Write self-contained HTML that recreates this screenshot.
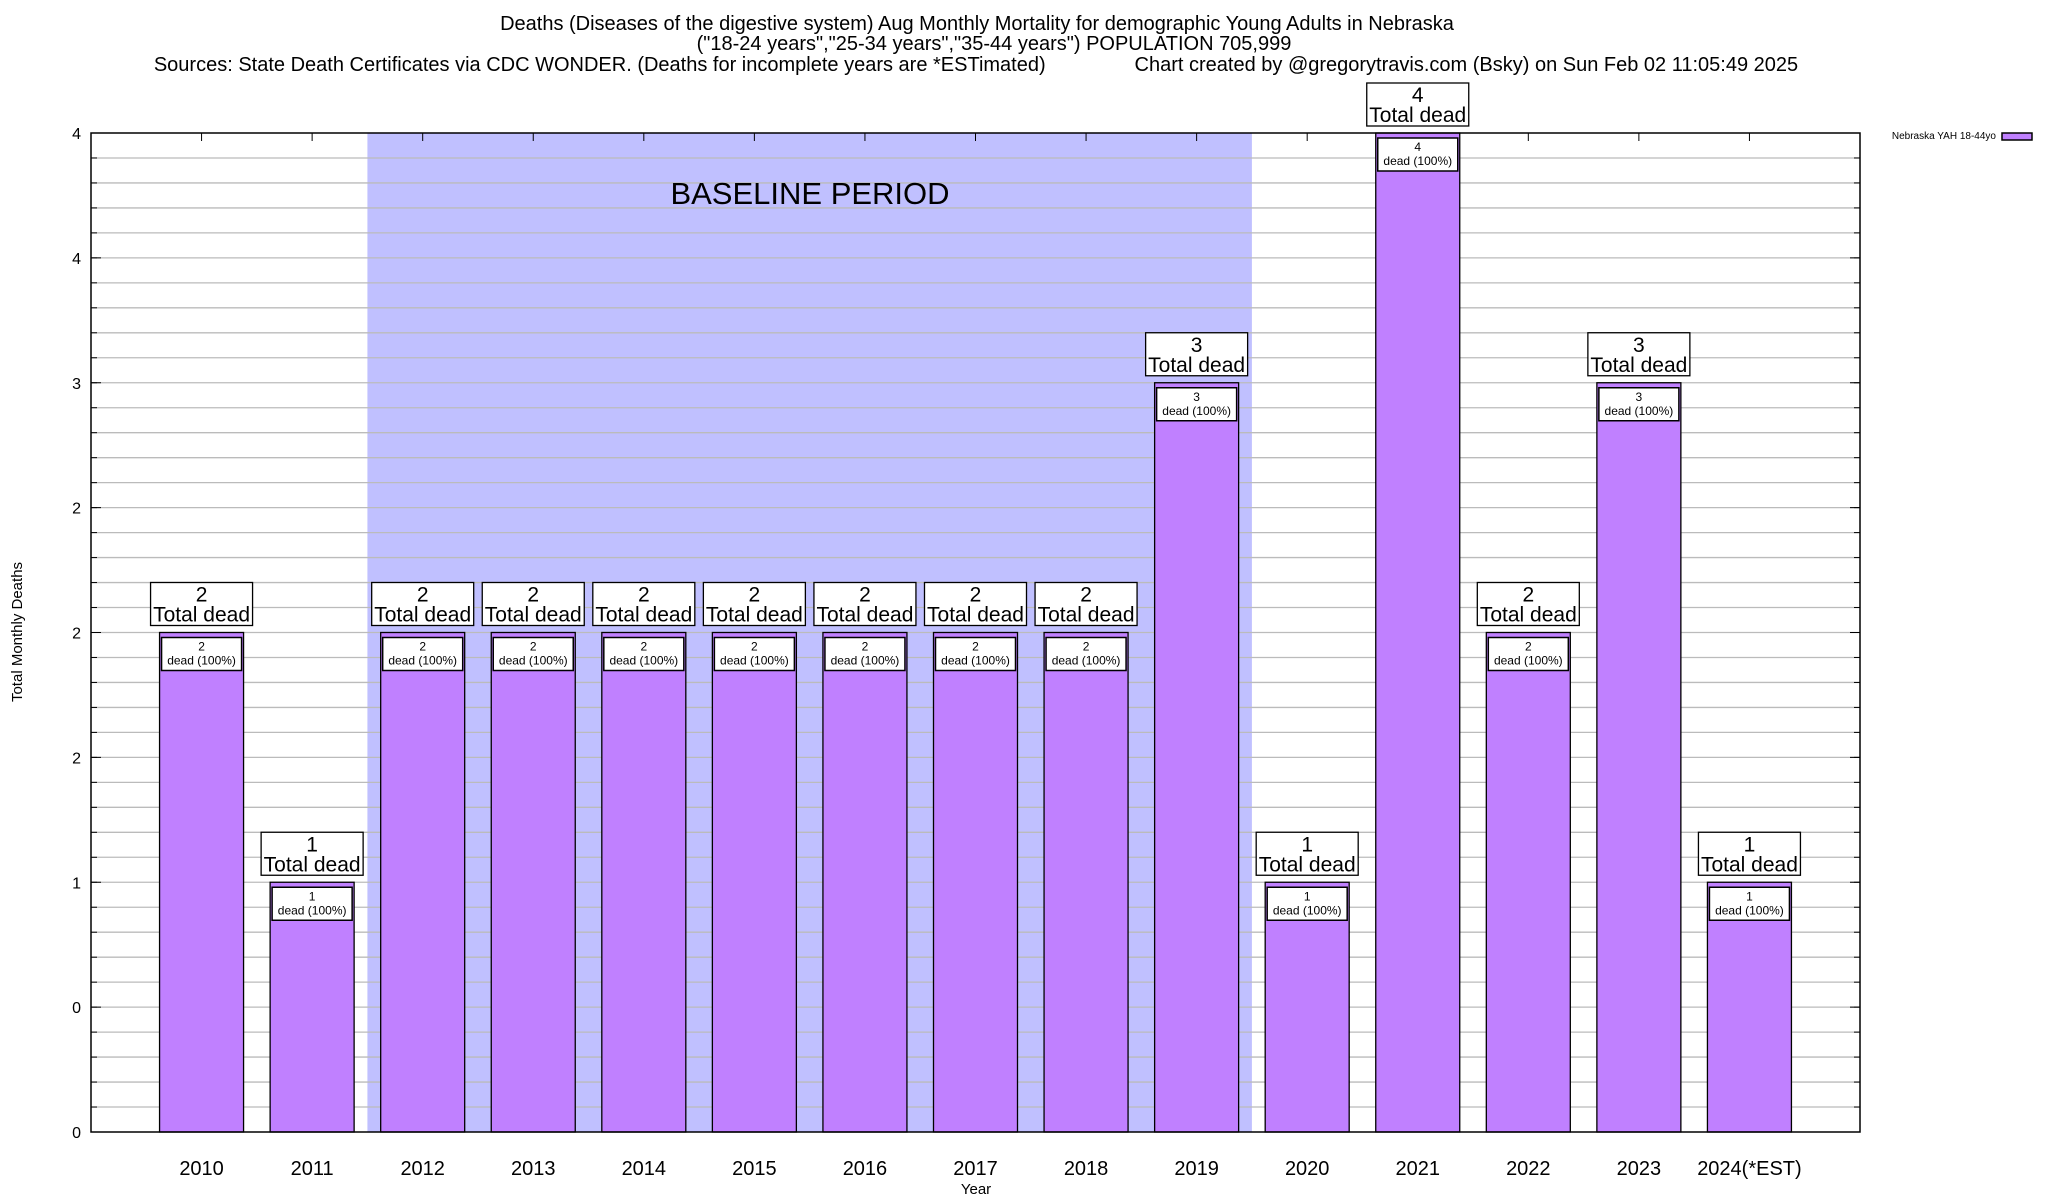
<!DOCTYPE html>
<html><head><meta charset="utf-8"><style>
body{margin:0;background:#fff}
svg{display:block;font-family:"Liberation Sans",Arial,sans-serif}
</style></head><body>
<svg id="chart" width="2048" height="1200" viewBox="0 0 2048 1200">
<g font-size="20" text-anchor="middle">
<text x="977" y="30">Deaths (Diseases of the digestive system) Aug Monthly Mortality for demographic Young Adults in Nebraska</text>
<text x="994" y="50">("18-24 years","25-34 years","35-44 years") POPULATION 705,999</text>
<text x="976" y="71" xml:space="preserve">Sources: State Death Certificates via CDC WONDER. (Deaths for incomplete years are *ESTimated)                Chart created by @gregorytravis.com (Bsky) on Sun Feb 02 11:05:49 2025</text>
</g>
<g id="plot"></g>
<text x="22" y="632" transform="rotate(-90 22 632)" text-anchor="middle" font-size="15">Total Monthly Deaths</text>
<text x="976" y="1194" text-anchor="middle" font-size="15">Year</text>
<g>
<text x="1996" y="139" text-anchor="end" font-size="10">Nebraska YAH 18-44yo</text>
<rect x="2002" y="133" width="30" height="7" fill="#c080ff" stroke="#000" stroke-width="1.5"/>
</g>
</svg>
<script>
const categories=["2010","2011","2012","2013","2014","2015","2016","2017","2018","2019","2020","2021","2022","2023","2024(*EST)"];
const deaths=[2,1,2,2,2,2,2,2,2,3,1,4,2,3,1];
const yTickValues=[0,0.5,1,1.5,2,2.5,3,3.5,4];
const yTickLabels=["0","0","1","2","2","2","3","4","4"];
const baselineRange=[2012,2019];
const L=91,R=1860,T=133,B=1132,yMax=4;
const NS="http://www.w3.org/2000/svg";
const slot=(R-L)/(categories.length+1);
function xPos(i){return L+(i+1)*slot;}
function yPos(v){return B-(v/yMax)*(B-T);}
const g=document.getElementById('plot');
function mk(tag,attrs,parent){const e=document.createElementNS(NS,tag);for(const k in attrs)e.setAttribute(k,attrs[k]);(parent||g).appendChild(e);return e;}
const bi0=categories.indexOf(String(baselineRange[0])),bi1=categories.indexOf(String(baselineRange[1]));
const shade=mk('rect',{x:xPos(bi0)-slot/2,y:T,width:(bi1-bi0+1)*slot,height:B-T,fill:'#c0c0ff'});


for(let k=1;k<40;k++){const v=k*0.1;const y=yPos(v);
 const gl=mk('line',{x1:L,x2:R,y1:y,y2:y,stroke:'#bbb','stroke-width':1.3});
 
 
 mk('line',{x1:L,x2:L+6,y1:y,y2:y,stroke:'#000'});mk('line',{x1:R,x2:R-6,y1:y,y2:y,stroke:'#000'});}
const bl=mk('text',{x:810,y:204,'font-size':31,'text-anchor':'middle'});bl.textContent='BASELINE PERIOD';


yTickValues.forEach((v,i)=>{const y=yPos(v);
 mk('line',{x1:L,x2:L+10,y1:y,y2:y,stroke:'#000'});mk('line',{x1:R,x2:R-10,y1:y,y2:y,stroke:'#000'});
 const t=mk('text',{x:L-10,y:y+6,'font-size':16,'text-anchor':'end'});t.textContent=yTickLabels[i];
 
 });
const bw=84;
categories.forEach((c,i)=>{const cx=xPos(i),v=deaths[i],yt=yPos(v);
 mk('line',{x1:cx,x2:cx,y1:T,y2:T+8,stroke:'#000'});
 const b=mk('rect',{x:cx-bw/2,y:yt,width:bw,height:B-yt,fill:'#c080ff',stroke:'#000','stroke-width':1.3});
 
 
 const ib=mk('rect',{x:cx-bw/2+2,y:yt+5,width:bw-4,height:33,fill:'#fff',stroke:'#000','stroke-width':1.5});
 
 
 const t1=mk('text',{x:cx,y:yt+18,'font-size':12,'text-anchor':'middle'});t1.textContent=v;
 const t2=mk('text',{x:cx,y:yt+32,'font-size':12,'text-anchor':'middle'});t2.textContent='dead (100%)';
 const ob=mk('rect',{x:cx-51,y:yt-50,width:102,height:43,fill:'#fff',stroke:'#000','stroke-width':1.3});
 
 
 const t3=mk('text',{x:cx,y:yt-31,'font-size':21,'text-anchor':'middle'});t3.textContent=v;
 const t4=mk('text',{x:cx,y:yt-11,'font-size':21,'text-anchor':'middle'});t4.textContent='Total dead';
 const xl=mk('text',{x:cx,y:B+43,'font-size':20,'text-anchor':'middle'});xl.textContent=c;
 
 });
const fr=mk('rect',{x:L,y:T,width:R-L,height:B-T,fill:'none',stroke:'#000','stroke-width':1.5});


</script>
</body></html>
